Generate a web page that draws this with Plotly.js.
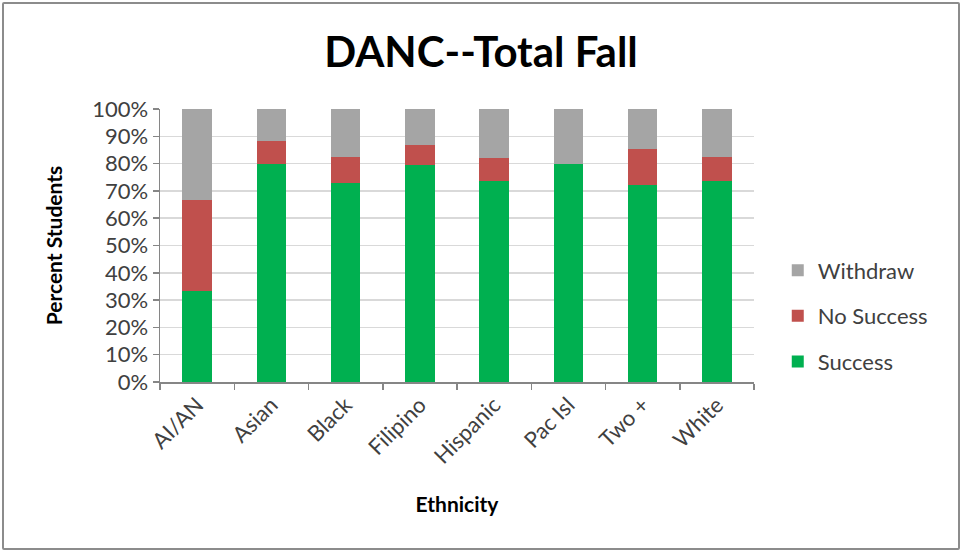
<!DOCTYPE html>
<html>
<head>
<meta charset="utf-8">
<script src="https://cdn.plot.ly/plotly-3.0.1.min.js"></script>
<style>
  html, body { margin: 0; padding: 0; background: #fff; }
  #wrap { position: relative; width: 962px; height: 552px; }
  #chart { width: 962px; height: 552px; }
  #frame {
    position: absolute; left: 2px; top: 2px; width: 954px; height: 544px;
    border: 2px solid #8c8c8c; border-radius: 2px; pointer-events: none;
  }
</style>
</head>
<body>
<div id="wrap">
  <div id="chart"></div>
  <div id="frame"></div>
</div>
<script>
// Ethnic groups along the x axis
const categories = ["AI/AN", "Asian", "Black", "Filipino", "Hispanic", "Pac Isl", "Two +", "White"];

// Outcome shares (percent of students)
const success   = [33.3, 79.7, 72.8, 79.6, 73.6, 80.0, 72.2, 73.6];
const noSuccess = [33.3, 8.7, 9.8, 7.1, 8.5, 0.0, 13.1, 9.0];
const withdraw  = [33.4, 11.6, 17.4, 13.3, 17.9, 20.0, 14.7, 17.4];

// Y axis ticks
const yTickVals = [0, 10, 20, 30, 40, 50, 60, 70, 80, 90, 100];
const yTickText = ["0%", "10%", "20%", "30%", "40%", "50%", "60%", "70%", "80%", "90%", "100%"];

const FONT = "Lato, 'Open Sans', sans-serif";

// Stacked bottom-to-top; legend lists them top-to-bottom (Withdraw first)
const traces = [
  { name: "Success", y: success, color: "#00B050", rank: 3 },
  { name: "No Success", y: noSuccess, color: "#C0504D", rank: 2 },
  { name: "Withdraw", y: withdraw, color: "#A5A5A5", rank: 1 }
].map(s => ({
  type: "bar",
  x: categories,
  y: s.y,
  name: s.name,
  legendgroup: s.name,
  legendrank: s.rank,
  marker: { color: s.color, line: { width: 0 } },
  hoverinfo: "x+y+name"
}));

const layout = {
  width: 962,
  height: 552,
  margin: { l: 160, r: 208, t: 109, b: 170 },
  paper_bgcolor: "#ffffff",
  plot_bgcolor: "#ffffff",
  barmode: "stack",
  bargap: 0.6,
  font: { family: FONT, color: "#404040", size: 22 },
  title: {
    text: "<b>DANC--Total Fall</b>",
    font: { family: FONT, size: 42, color: "#000000" },
    xref: "container", x: 0.5, xanchor: "center",
    yref: "container", y: 0.905, yanchor: "middle"
  },
  xaxis: {
    type: "category",
    tickangle: -45,
    tickfont: { family: FONT, size: 22, color: "#404040" },
    showline: true, linecolor: "#868686", linewidth: 1.5,
    ticks: "outside", ticklen: 6, tickcolor: "#868686", tickwidth: 1.5,
    tickson: "boundaries",
    showgrid: false,
    automargin: false,
    title: { text: "<b>Ethnicity</b>", font: { family: FONT, size: 21, color: "#000000" }, standoff: 29 }
  },
  yaxis: {
    range: [0, 100],
    tickvals: yTickVals,
    ticktext: yTickText,
    tickfont: { family: FONT, size: 22, color: "#404040" },
    showline: true, linecolor: "#868686", linewidth: 1.5,
    ticks: "outside", ticklen: 6, tickcolor: "#868686", tickwidth: 1.5,
    showgrid: true, gridcolor: "#d9d9d9", gridwidth: 1.5,
    zeroline: false,
    automargin: false,
    title: { text: "<b>Percent Students</b>", font: { family: FONT, size: 21, color: "#000000" }, standoff: 24 }
  },
  legend: {
    traceorder: "grouped",
    tracegroupgap: 14,
    font: { family: FONT, size: 22, color: "#404040" },
    x: 1.04, xanchor: "left",
    y: 0.242, yanchor: "middle",
    bgcolor: "rgba(0,0,0,0)"
  },
  showlegend: true
};

Plotly.newPlot("chart", traces, layout, { displayModeBar: false, staticPlot: true });
</script>
</body>
</html>
